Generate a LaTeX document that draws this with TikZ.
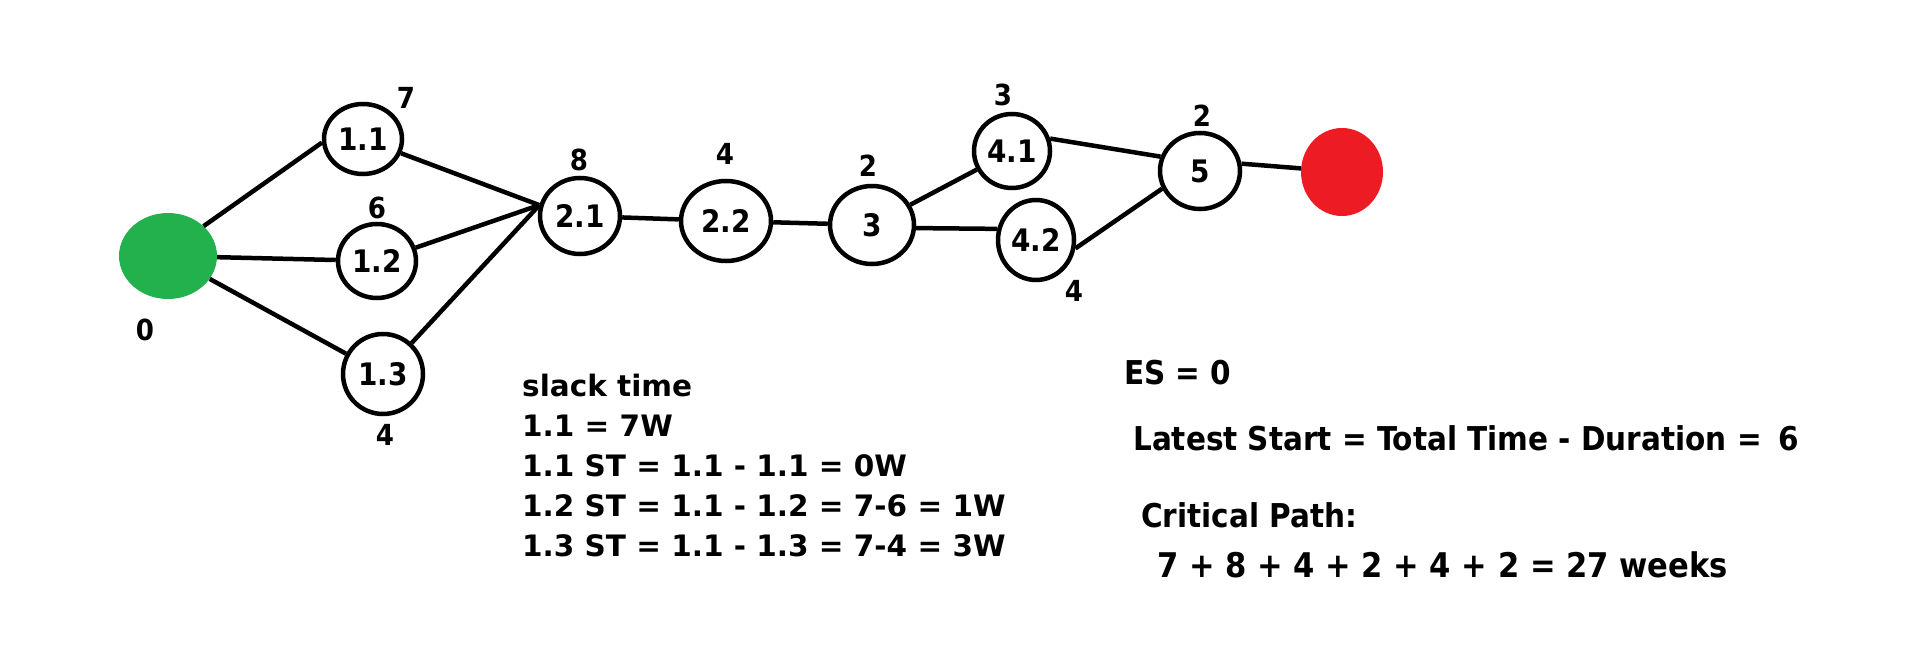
\documentclass[tikz,border=0pt]{standalone}
\usepackage{fontspec}
\setmainfont{DejaVu Sans}
\newfontfamily\condfont{DejaVu Sans Condensed}
\usetikzlibrary{shapes.geometric}
\definecolor{paintgreen}{HTML}{22B14C}
\definecolor{paintred}{HTML}{ED1C24}
\begin{document}
\begin{tikzpicture}[x=1pt,y=-1pt,
  task/.style={ellipse,draw=black,line width=4.5pt,inner sep=0pt,font=\condfont\fontsize{31}{34}\selectfont\bfseries},
  endpt/.style={ellipse,draw=none,inner sep=0pt},
  num/.style={inner sep=0pt,font=\condfont\fontsize{29}{32}\selectfont\bfseries},
  note/.style={inner sep=0pt,anchor=base west,font=\fontsize{29.5}{36}\selectfont\bfseries},
  cnote/.style={inner sep=0pt,anchor=base west,font=\condfont\fontsize{32.8}{38}\selectfont\bfseries},
  edge/.style={line width=4.5pt}]
\useasboundingbox (0,0) rectangle (1914,666);
\node[endpt,fill=paintgreen,minimum width=98pt,minimum height=86pt] (start) at (168,256) {};
\node[endpt,fill=paintred,minimum width=82pt,minimum height=88pt] (finish) at (1342,172) {};
\node[task,minimum width=78pt,minimum height=70pt] (n11) at (363,139) {1.1};
\node[task,minimum width=78pt,minimum height=74pt] (n12) at (377,261) {1.2};
\node[task,minimum width=80pt,minimum height=80pt] (n13) at (383,374) {1.3};
\node[task,minimum width=80pt,minimum height=76pt] (n21) at (580,216) {2.1};
\node[task,minimum width=90pt,minimum height=80pt] (n22) at (726,221) {2.2};
\node[task,minimum width=84pt,minimum height=78pt] (n3) at (872,225) {3};
\node[task,minimum width=76pt,minimum height=74pt] (n41) at (1012,151) {4.1};
\node[task,minimum width=76pt,minimum height=80pt] (n42) at (1036,240) {4.2};
\node[task,minimum width=80pt,minimum height=76pt] (n5) at (1200,171) {5};
\draw[edge] (start.40) -- (n11.185);
\draw[edge] (start) -- (n12);
\draw[edge] (start) -- (n13);
\draw[edge] (n11) -- (n21.165);
\draw[edge] (n12) -- (n21.165);
\draw[edge] (n13) -- (n21.165);
\draw[edge] (n21) -- (n22);
\draw[edge] (n22) -- (n3);
\draw[edge] (n3) -- (n41);
\draw[edge] (n3.-4) -- (n42.164);
\draw[edge] (n41.18) -- (n5.160);
\draw[edge] (n42.-12) -- (n5.205);
\draw[edge] (n5.10) -- (finish.175);
\node[num] (l0) at (145,330) {0};
\node[num] (l11) at (406,98) {7};
\node[num] (l12) at (377,208) {6};
\node[num] (l13) at (385,435) {4};
\node[num] (l21) at (579,160) {8};
\node[num] (l22) at (725,154) {4};
\node[num] (l3) at (868,166) {2};
\node[num] (l41) at (1003,95) {3};
\node[num] (l42) at (1074,291) {4};
\node[num] (l5) at (1202,116) {2};
\node[note] (s1) at (522,396) {slack time};
\node[note] (s2) at (522,436) {1.1 = 7W};
\node[note] (s3) at (522,476) {1.1 ST = 1.1 - 1.1 = 0W};
\node[note] (s4) at (522,516) {1.2 ST = 1.1 - 1.2 = 7-6 = 1W};
\node[note] (s5) at (522,556) {1.3 ST = 1.1 - 1.3 = 7-4 = 3W};
\node[cnote] (es) at (1124,384) {ES = 0};
\node[cnote] (ls) at (1133,450) {Latest Start = Total Time - Duration =\hspace{6pt} 6};
\node[cnote] (cp) at (1141,527) {Critical Path:};
\node[cnote,font=\condfont\fontsize{34}{38}\selectfont\bfseries] (cpsum) at (1157,577) {7 + 8 + 4 + 2 + 4 + 2 = 27 weeks};
\end{tikzpicture}
\end{document}
